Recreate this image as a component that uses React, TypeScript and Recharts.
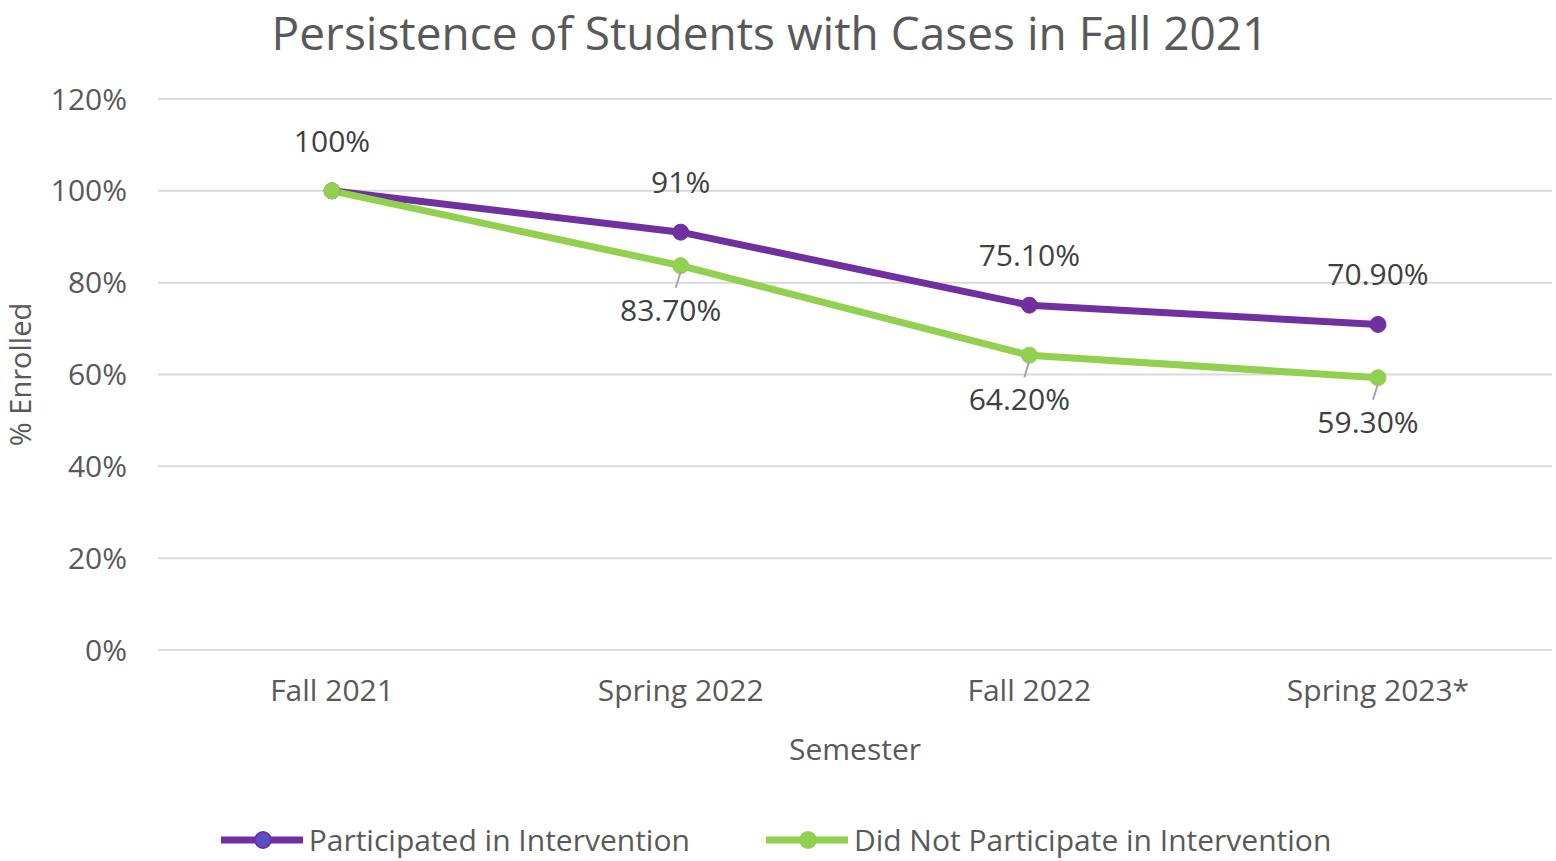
import { LineChart, Line, XAxis, YAxis, CartesianGrid, Legend, LabelList } from 'recharts'

const semesters = ['Fall 2021', 'Spring 2022', 'Fall 2022', 'Spring 2023*']
const participated = [100, 91, 75.1, 70.9]
const notParticipated = [100, 83.7, 64.2, 59.3]
const participatedLabels = ['100%', '91%', '75.10%', '70.90%']
const notParticipatedLabels = ['', '83.70%', '64.20%', '59.30%']
const yTicks = [0, 20, 40, 60, 80, 100, 120]

const PURPLE = '#7030A0'
const GREEN = '#92D050'
const TEXT = '#595959'
const FONT = '"Liberation Sans Narrow", "Open Sans", sans-serif'

const data = semesters.map((s, i) => ({
    semester: s,
    participated: participated[i],
    notParticipated: notParticipated[i],
}))

const PurpleLabel = (props: any) => {
    const { x, y, index } = props
    const txt = participatedLabels[index]
    if (!txt) return null
    return (
        <text x={x} y={y - 47} textAnchor="middle" dominantBaseline="middle"
            fontSize={30} fill="#404040" fontFamily={FONT}>
            {txt}
        </text>
    )
}

const GreenLabel = (props: any) => {
    const { x, y, index } = props
    const txt = notParticipatedLabels[index]
    if (!txt) return null
    return (
        <g>
            <line x1={x} y1={y + 6} x2={x - 5} y2={y + 22} stroke="#a6a6a6" strokeWidth={2} />
            <text x={x - 10} y={y + 47} textAnchor="middle" dominantBaseline="middle"
                fontSize={30} fill="#404040" fontFamily={FONT}>
                {txt}
            </text>
        </g>
    )
}

const LegendContent = () => (
    <div style={{ display: 'flex', justifyContent: 'center', alignItems: 'center', gap: 76, fontFamily: FONT, fontSize: 30, color: TEXT, height: 40, lineHeight: '36px' }}>
        {[
            { name: 'Participated in Intervention', color: PURPLE, dot: '#5a4fc9' },
            { name: 'Did Not Participate in Intervention', color: GREEN, dot: GREEN },
        ].map((it) => (
            <div key={it.name} style={{ display: 'flex', alignItems: 'center' }}>
                <svg width={84} height={24} style={{ marginRight: 4 }}>
                    <line x1={0} y1={12} x2={82} y2={12} stroke={it.color} strokeWidth={7} />
                    <circle cx={42} cy={12} r={8} fill={it.dot} stroke={it.color} strokeWidth={2} />
                </svg>
                <span>{it.name}</span>
            </div>
        ))}
    </div>
)

export default function App() {
    return (
        <div style={{ position: 'absolute', left: 0, top: 0, width: 1556, height: 861, background: '#fff' }}>
            <div style={{ width: 1540, height: 64, textAlign: 'center', fontFamily: FONT, fontSize: 46, color: TEXT, lineHeight: '64px', whiteSpace: 'nowrap' }}>
                Persistence of Students with Cases in Fall 2021
            </div>
            <LineChart width={1556} height={797} data={data}
                margin={{ top: 35, right: 4, bottom: 0, left: 0 }}>
                <CartesianGrid vertical={false} stroke="#d9d9d9" strokeWidth={2} />
                <XAxis dataKey="semester" padding={{ left: 174, right: 174 }}
                    axisLine={{ stroke: '#d9d9d9', strokeWidth: 2 }} tickLine={false}
                    tickSize={0} tickMargin={30} height={170}
                    tick={{ fontSize: 30, fill: TEXT, fontFamily: FONT }}
                    label={{ value: 'Semester', position: 'insideTop', offset: 89, fontSize: 30, fill: TEXT, fontFamily: FONT }} />
                <YAxis domain={[0, 120]} ticks={yTicks} width={158} axisLine={false} tickLine={false}
                    tickSize={0} tickMargin={31} tickFormatter={(v: number) => `${v}%`}
                    tick={{ fontSize: 30, fill: TEXT, fontFamily: FONT }}
                    label={(p: any) => {
                        const vb = p.viewBox
                        const cy = vb.y + vb.height / 2
                        return (
                            <text x={23} y={cy} transform={`rotate(-90 23 ${cy})`} textAnchor="middle"
                                dominantBaseline="middle" fontSize={29} fill={TEXT} fontFamily={FONT}>
                                % Enrolled
                            </text>
                        )
                    }} />
                <Legend verticalAlign="bottom" height={41} content={<LegendContent />} />
                <Line dataKey="participated" name="Participated in Intervention" stroke={PURPLE} strokeWidth={7}
                    dot={{ r: 8, fill: PURPLE, stroke: PURPLE, strokeWidth: 1 }} isAnimationActive={false}>
                    <LabelList dataKey="participated" content={PurpleLabel} />
                </Line>
                <Line dataKey="notParticipated" name="Did Not Participate in Intervention" stroke={GREEN} strokeWidth={7}
                    dot={{ r: 8, fill: GREEN, stroke: GREEN, strokeWidth: 1 }} isAnimationActive={false}>
                    <LabelList dataKey="notParticipated" content={GreenLabel} />
                </Line>
            </LineChart>
        </div>
    )
}
